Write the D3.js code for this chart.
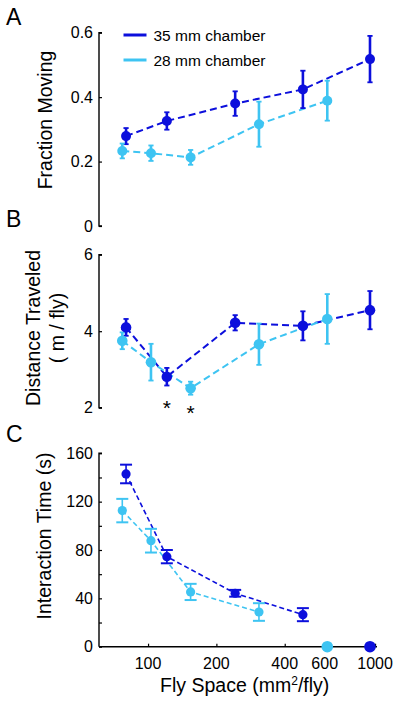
<!DOCTYPE html>
<html>
<head>
<meta charset="utf-8">
<script src="https://cdn.jsdelivr.net/npm/d3@7"></script>
<style>
  html, body { margin: 0; padding: 0; background: #fff; }
  svg { display: block; font-family: "Liberation Sans", Arial, sans-serif; }
</style>
</head>
<body>
<svg id="chart" width="400" height="703"></svg>
<script>
// ---------------- data ----------------
const seriesNames = ["35 mm chamber", "28 mm chamber"];
const space35 = [80, 121, 242, 481, 950];
const space28 = [77, 103, 154, 308, 616];
const xTickValues = [100, 200, 400, 600, 1000];

const frac35 = [0.279, 0.326, 0.380, 0.424, 0.518];
const frac35Err = [0.025, 0.027, 0.038, 0.058, 0.072];
const frac28 = [0.233, 0.226, 0.213, 0.316, 0.389];
const frac28Err = [0.023, 0.024, 0.023, 0.070, 0.062];
const fracTicks = [0, 0.2, 0.4, 0.6];

const dist35 = [4.10, 2.81, 4.22, 4.14, 4.55];
const dist35Err = [0.22, 0.23, 0.20, 0.38, 0.50];
const dist28 = [3.75, 3.19, 2.51, 3.66, 4.32];
const dist28Err = [0.22, 0.48, 0.17, 0.54, 0.65];
const distTicks = [2, 4, 6];
const distStars = [{ s: 121, v: 2.81 }, { s: 154, v: 2.51 }];

const inter35 = [142.9, 74.5, 44.2, 26.5, 0];
const inter35Err = [7.7, 5.5, 2.8, 5.4, 0];
const inter28 = [112.6, 87.7, 45.3, 28.7, 0];
const inter28Err = [9.7, 9.8, 6.7, 7.3, 0];
const interTicks = [0, 20, 40, 60, 80, 100, 120, 140, 160];
const interLabels = [0, 40, 80, 120, 160];

const colDark = "#0c0fdc";
const colLight = "#3ec4f2";

// ---------------- layout ----------------
const svg = d3.select("#chart");
const x = d3.scaleLog().domain([60.8, 1020]).range([99, 377]);

function drawPanel(opt) {
  const g = svg.append("g");
  const y = d3.scaleLinear().domain(opt.domain).range(opt.range);

  // y axis (ticks inward)
  const ax = d3.axisRight(y).tickValues(opt.ticks).tickSize(3).tickFormat("");
  const ag = g.append("g").attr("transform", `translate(99,0)`).call(ax);
  ag.select(".domain").attr("d", `M3,${opt.range[1]}H0V${opt.range[0]}` + (opt.xAxis ? "" : "H3"))
    .attr("stroke", "#000").attr("stroke-width", 1.4).attr("fill", "none");
  ag.selectAll(".tick line").attr("stroke", "#000").attr("stroke-width", 1.2);
  // tick labels
  g.selectAll("text.ytl").data(opt.labels).join("text")
    .attr("class", "ytl")
    .attr("x", 93).attr("y", d => y(d)).attr("dy", "0.36em")
    .attr("text-anchor", "end").attr("font-size", 16).attr("fill", "#000")
    .text(opt.fmt);

  // x axis
  if (opt.xAxis) {
    const xa = d3.axisTop(x).tickValues(xTickValues).tickSize(3).tickFormat("");
    const xg = g.append("g").attr("transform", `translate(0,${opt.range[0]})`).call(xa);
    xg.select(".domain").attr("d", `M99,0H377`).attr("stroke", "#000").attr("stroke-width", 1.6);
    xg.selectAll(".tick line").attr("stroke", "#000").attr("stroke-width", 1.2);
    g.selectAll("text.xtl").data(xTickValues).join("text")
      .attr("class", "xtl")
      .attr("x", d => x(d)).attr("y", 668.5)
      .attr("text-anchor", "middle").attr("font-size", 16).attr("fill", "#000")
      .text(d => d);
  }

  // series
  opt.series.forEach(s => {
    const pts = s.xs.map((xv, i) => ({ xv, v: s.vals[i], e: s.errs[i] }));
    const linePts = opt.lineCount ? pts.slice(0, opt.lineCount) : pts;
    g.append("path")
      .datum(linePts)
      .attr("d", d3.line().x(d => x(d.xv)).y(d => y(d.v)))
      .attr("fill", "none").attr("stroke", s.color)
      .attr("stroke-width", opt.lineW).attr("stroke-dasharray", opt.dash);
  });
  opt.series.forEach(s => {
    const pts = s.xs.map((xv, i) => ({ xv, v: s.vals[i], e: s.errs[i] })).filter(d => d.e > 0);
    const eg = g.append("g").attr("stroke", s.color).attr("fill", "none");
    eg.selectAll("line.bar").data(pts).join("line")
      .attr("x1", d => x(d.xv)).attr("x2", d => x(d.xv))
      .attr("y1", d => y(d.v - d.e)).attr("y2", d => y(d.v + d.e))
      .attr("stroke-width", opt.barW);
    eg.selectAll("line.capT").data(pts).join("line")
      .attr("x1", d => x(d.xv) - opt.cap).attr("x2", d => x(d.xv) + opt.cap)
      .attr("y1", d => y(d.v + d.e)).attr("y2", d => y(d.v + d.e))
      .attr("stroke-width", opt.capW);
    eg.selectAll("line.capB").data(pts).join("line")
      .attr("x1", d => x(d.xv) - opt.cap).attr("x2", d => x(d.xv) + opt.cap)
      .attr("y1", d => y(d.v - d.e)).attr("y2", d => y(d.v - d.e))
      .attr("stroke-width", opt.capW);
  });
  opt.series.forEach(s => {
    const pts = s.xs.map((xv, i) => ({ xv, v: s.vals[i] }));
    g.append("g").selectAll("circle").data(pts).join("circle")
      .attr("cx", d => x(d.xv)).attr("cy", d => y(d.v))
      .attr("r", d => (opt.zeroR && d.v === 0) ? opt.zeroR : opt.r)
      .attr("fill", s.color);
  });

  // title
  opt.title.forEach(t => {
    g.append("text")
      .attr("transform", `translate(${t.x},${opt.titleY}) rotate(-90)`)
      .attr("text-anchor", "middle").attr("font-size", 19.5).attr("fill", "#000")
      .text(t.text);
  });
  // panel letter
  svg.append("text").attr("x", 6).attr("y", opt.letterY)
    .attr("font-size", 23).attr("fill", "#000").text(opt.letter);
  return { g, y };
}

// Panel A
drawPanel({
  domain: [0, 0.6], range: [226, 32.7], ticks: fracTicks, labels: fracTicks,
  fmt: d => d === 0 ? "0" : d3.format(".1f")(d),
  series: [
    { xs: space35, vals: frac35, errs: frac35Err, color: colDark },
    { xs: space28, vals: frac28, errs: frac28Err, color: colLight }
  ],
  lineW: 2, dash: "7,4", barW: 2.6, cap: 2.6, capW: 1.8, r: 5,
  title: [{ x: 52, text: "Fraction Moving" }], titleY: 120,
  letter: "A", letterY: 25
});

// legend
const legend = svg.append("g");
seriesNames.forEach((n, i) => {
  const yy = 35 + i * 25;
  legend.append("line").attr("x1", 123.5).attr("x2", 146.5).attr("y1", yy).attr("y2", yy)
    .attr("stroke", i === 0 ? colDark : colLight).attr("stroke-width", 3);
  legend.append("text").attr("x", 153.5).attr("y", yy).attr("dy", "0.36em")
    .attr("font-size", 15.5).attr("fill", "#000").text(n);
});

// Panel B
const pb = drawPanel({
  domain: [2, 6], range: [407.7, 254.7], ticks: distTicks, labels: distTicks,
  fmt: d => d,
  series: [
    { xs: space35, vals: dist35, errs: dist35Err, color: colDark },
    { xs: space28, vals: dist28, errs: dist28Err, color: colLight }
  ],
  lineW: 2, dash: "7,4", barW: 2.6, cap: 2.6, capW: 1.8, r: 5.3,
  title: [{ x: 40, text: "Distance Traveled" }, { x: 63.5, text: "( m / fly)" }], titleY: 328,
  letter: "B", letterY: 226.5
});
pb.g.selectAll("text.star").data(distStars).join("text")
  .attr("class", "star")
  .attr("x", d => x(d.s)).attr("y", (d, i) => i === 0 ? 414.5 : 419.5)
  .attr("text-anchor", "middle").attr("font-size", 21).attr("fill", "#000")
  .text("*");

// Panel C
drawPanel({
  domain: [0, 160], range: [646.7, 453.3], ticks: interTicks, labels: interLabels,
  fmt: d => d, xAxis: true, lineCount: 4,
  series: [
    { xs: space35, vals: inter35, errs: inter35Err, color: colDark },
    { xs: space28, vals: inter28, errs: inter28Err, color: colLight }
  ],
  lineW: 1.6, dash: "5,3", barW: 1.6, cap: 6, capW: 2, r: 4.6, zeroR: 5.8,
  title: [{ x: 50.5, text: "Interaction Time (s)" }], titleY: 536,
  letter: "C", letterY: 441.5
});

// x title
const xt = svg.append("text").attr("x", 244.7).attr("y", 691.7)
  .attr("text-anchor", "middle").attr("font-size", 19.5).attr("fill", "#000");
xt.append("tspan").text("Fly Space (mm");
xt.append("tspan").attr("font-size", 12).attr("dy", -7).text("2");
xt.append("tspan").attr("dy", 7).text("/fly)");
</script>
</body>
</html>
